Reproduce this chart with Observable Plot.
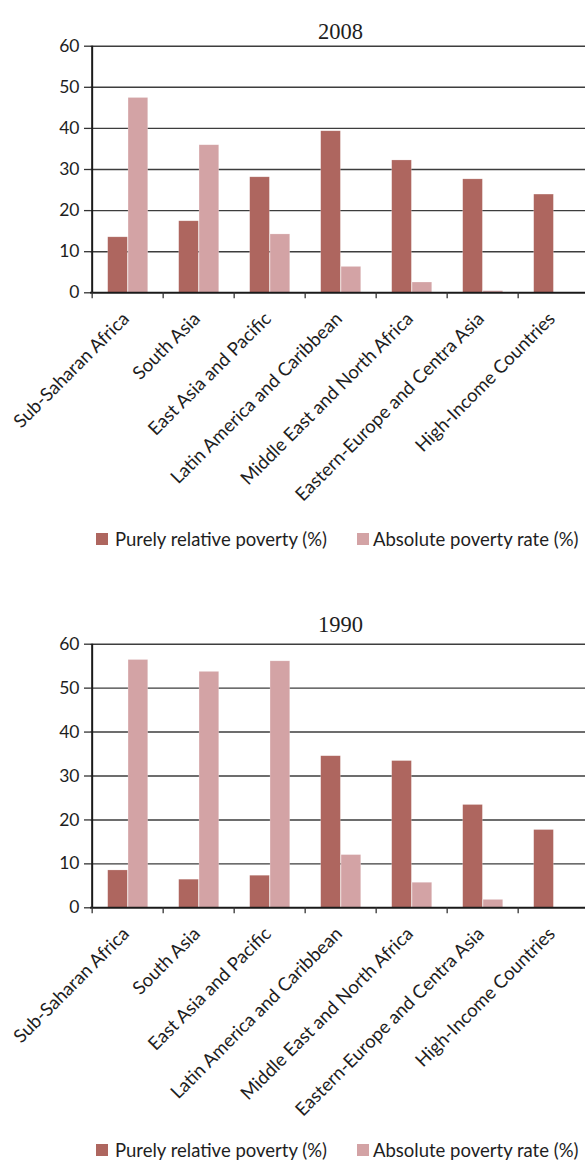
<!DOCTYPE html>
<html>
<head>
<meta charset="utf-8">
<script src="https://cdn.jsdelivr.net/npm/d3@7"></script>
<script src="https://cdn.jsdelivr.net/npm/@observablehq/plot@0.6"></script>
<style>
  html, body { margin: 0; padding: 0; background: #fff; }
  #page { position: relative; width: 585px; height: 1162px; overflow: hidden; font-family: Lato, "Open Sans", sans-serif; }
  .chart { position: absolute; left: 0; }
  .legend { position: absolute; left: 0; width: 585px; height: 22px; font-size: 18.5px; color: #1e1e1e; }
  .legend .sw { position: absolute; width: 12px; height: 12px; top: 5px; }
  .legend .lb { position: absolute; top: 0; line-height: 22px; white-space: nowrap; }
</style>
</head>
<body>
<div id="page"></div>
<script>
const categories = [
  "Sub-Saharan Africa",
  "South Asia",
  "East Asia and Pacific",
  "Latin America and Caribbean",
  "Middle East and North Africa",
  "Eastern-Europe and Centra Asia",
  "High-Income Countries"
];
const seriesNames = ["Purely relative poverty (%)", "Absolute poverty rate (%)"];
const seriesColors = ["#ae665f", "#d3a3a5"];
const yTicks = [0, 10, 20, 30, 40, 50, 60];

const titles = ["2008", "1990"];
const relative2008 = [13.5, 17.4, 28.1, 39.3, 32.2, 27.6, 23.9];
const absolute2008 = [47.4, 35.9, 14.2, 6.3, 2.5, 0.4, 0];
const relative1990 = [8.5, 6.4, 7.3, 34.5, 33.4, 23.4, 17.7];
const absolute1990 = [56.4, 53.7, 56.1, 12.0, 5.7, 1.8, 0];

const page = document.getElementById("page");
const bandEnd = 591.7, left = 90;
const band = (bandEnd - left) / categories.length;

function chart(title, rel, abs, layout) {
  const relData = categories.map((c, i) => ({category: c, value: rel[i]}));
  const absData = categories.map((c, i) => ({category: c, value: abs[i]}));
  const svg = Plot.plot({
    width: 585,
    height: layout.height,
    marginTop: layout.marginTop,
    marginBottom: layout.height - layout.zeroY,
    marginLeft: left,
    marginRight: 0,
    x: {domain: categories, range: [left, bandEnd], padding: 0, label: null},
    y: {domain: [0, 60], label: null},
    style: {fontFamily: "Lato, sans-serif", fontSize: "16px", color: "#1e1e1e", background: "transparent", overflow: "visible"},
    marks: [
      Plot.ruleY(yTicks.slice(1), {stroke: "#3d3d3d", strokeWidth: 1.4}),
      Plot.barY(relData, {x: "category", y: "value", fill: seriesColors[0], stroke: "#fff", strokeOpacity: 0.35, strokeWidth: 0.6,
        insetLeft: band * 0.219, insetRight: band * 0.497}),
      Plot.barY(absData.filter(d => d.value > 0), {x: "category", y: "value", fill: seriesColors[1], stroke: "#fff", strokeOpacity: 0.35, strokeWidth: 0.6,
        insetLeft: band * 0.503, insetRight: band * 0.213}),
      Plot.ruleY([0], {stroke: "#1a1a1a", strokeWidth: 2}),
      Plot.ruleX([categories[0]], {dx: -band / 2, stroke: "#1a1a1a", strokeWidth: 2}),
      Plot.axisX({tickSize: 6, tickFormat: () => "", dx: -band / 2, stroke: "#333", strokeWidth: 1.3, label: null}),
      Plot.axisX({tickSize: 0, tickPadding: 23, tickRotate: -45, fontSize: 18.5, dx: -2, label: null}),
      Plot.axisY({ticks: yTicks, tickSize: 6, tickPadding: 5, fontSize: 17.5, stroke: "#333", strokeWidth: 1.3, label: null}),
      Plot.text([title], {frameAnchor: "top", dx: 2.5, dy: layout.titleDy, fontSize: 22.5, fontFamily: "'Liberation Serif', 'DejaVu Serif', serif", fill: "#1e1e1e"})
    ]
  });
  svg.classList.add("chart");
  svg.style.top = layout.top + "px";
  page.appendChild(svg);

  const lg = document.createElement("div");
  lg.className = "legend";
  lg.style.top = layout.legendTop + "px";
  const pos = [{sw: 96, lb: 115}, {sw: 357, lb: 373}];
  seriesNames.forEach((name, i) => {
    const sw = document.createElement("div");
    sw.className = "sw";
    sw.style.left = pos[i].sw + "px";
    sw.style.background = seriesColors[i];
    const lb = document.createElement("div");
    lb.className = "lb";
    lb.style.left = pos[i].lb + "px";
    lb.textContent = name;
    lg.appendChild(sw);
    lg.appendChild(lb);
  });
  page.appendChild(lg);
}

chart(titles[0], relative2008, absolute2008, {top: 0, height: 520, marginTop: 45.7, zeroY: 292.3, titleDy: -23.2, legendTop: 528});
chart(titles[1], relative1990, absolute1990, {top: 590, height: 540, marginTop: 53.7, zeroY: 317.3, titleDy: -28.2, legendTop: 1139});
</script>
</body>
</html>
